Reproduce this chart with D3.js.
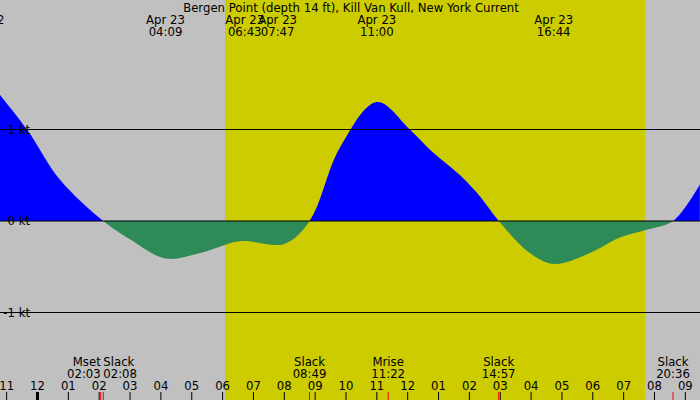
<!DOCTYPE html>
<html><head><meta charset="utf-8">
<script src="https://cdn.jsdelivr.net/npm/d3@7"></script>
<style>body{margin:0}svg{display:block;font-family:"DejaVu Sans",sans-serif}</style>
</head><body><svg width="700" height="400"></svg>
<script>
// current speed in knots, hours from midnight Apr 23
const hours = [-1.22,-0.34,0.73,2.13,3.0,4.15,5.27,6.56,8.0,8.82,9.8,11.0,12.07,12.72,13.7,14.34,14.95,15.96,16.75,17.9,18.88,19.69,20.6,21.47];
const knots = [1.38,1.0,0.45,0,-0.2,-0.41,-0.35,-0.22,-0.25,0,0.8,1.3,1.0,0.78,0.5,0.27,0,-0.35,-0.47,-0.35,-0.18,-0.1,0,0.4];
const topLabels = [["04:09",4.15],["06:43",6.717],["07:47",7.783],["11:00",11.0],["16:44",16.733]];
const bottomLabels = [["Mset","02:03",2.05,"end"],["Slack","02:08",2.133,"start"],["Slack","08:49",8.817,"middle"],["Mrise","11:22",11.367,"middle"],["Slack","14:57",14.95,"middle"],["Slack","20:36",20.6,"middle"]];
const redTicks = [2.05,2.133,8.817,11.367,14.95,20.6];
const hourTicks = d3.range(-1,22);
const daylight = [6.08,19.69];
const kt = [-1,0,1];

const svg = d3.select("svg");
const x = d3.scaleLinear().domain([0,1]).range([37.5,68.35]);
const y = d3.scaleLinear().domain([0,1]).range([221,129.5]);
const fs = 11.7;

svg.append("rect").attr("width",700).attr("height",400).attr("fill","#c0c0c0");
svg.append("rect").attr("x",x(daylight[0])).attr("width",x(daylight[1])-x(daylight[0]))
  .attr("height",400).attr("fill","#cccc00");

const data = hours.map((h,i)=>[h,knots[i]]);
const area = d3.area().x(d=>x(d[0])).y0(y(0)).y1(d=>y(d[1])).curve(d3.curveCatmullRom);
const defs = svg.append("defs");
defs.append("clipPath").attr("id","pos").append("rect").attr("width",700).attr("height",y(0));
defs.append("clipPath").attr("id","neg").append("rect").attr("y",y(0)).attr("width",700).attr("height",400);
svg.append("path").datum(data).attr("d",area).attr("fill","#0000ff").attr("clip-path","url(#pos)");
svg.append("path").datum(data).attr("d",area).attr("fill","#2e8b57").attr("clip-path","url(#neg)");

svg.selectAll("line.kt").data(kt).join("line").attr("x1",0).attr("x2",700)
  .attr("y1",d=>y(d)).attr("y2",d=>y(d)).attr("stroke","#000");
svg.selectAll("text.kt").data(kt).join("text").attr("x",30).attr("y",d=>y(d)+4)
  .attr("text-anchor","end").attr("font-size",fs).text(d=>d+" kt");

svg.append("text").attr("x",351).attr("y",12).attr("text-anchor","middle").attr("font-size",fs)
  .text("Bergen Point (depth 14 ft), Kill Van Kull, New York Current");
svg.append("text").attr("x",-3).attr("y",24).attr("font-size",fs).text("2");
const tl = svg.selectAll("g.top").data(topLabels).join("g")
  .attr("transform",d=>`translate(${x(d[1])},0)`).attr("text-anchor","middle").attr("font-size",fs);
tl.append("text").attr("y",24).text("Apr 23");
tl.append("text").attr("y",36).text(d=>d[0]);

const bl = svg.selectAll("g.bot").data(bottomLabels).join("g")
  .attr("transform",d=>`translate(${x(d[2])},0)`).attr("text-anchor",d=>d[3]).attr("font-size",fs);
bl.append("text").attr("y",366).text(d=>d[0]);
bl.append("text").attr("y",378).text(d=>d[1]);

svg.selectAll("text.hr").data(hourTicks).join("text").attr("x",d=>x(d)).attr("y",390)
  .attr("text-anchor","middle").attr("font-size",fs).text(d=>String((d+24)%12||12).padStart(2,"0"));
svg.selectAll("line.hr").data(hourTicks).join("line").attr("x1",d=>x(d)).attr("x2",d=>x(d))
  .attr("y1",392).attr("y2",400).attr("stroke","#000").attr("stroke-width",d=>d===0?3:1);
svg.selectAll("line.red").data(redTicks).join("line").attr("x1",d=>x(d)).attr("x2",d=>x(d))
  .attr("y1",392).attr("y2",400).attr("stroke","#ff0000");
</script></body></html>
